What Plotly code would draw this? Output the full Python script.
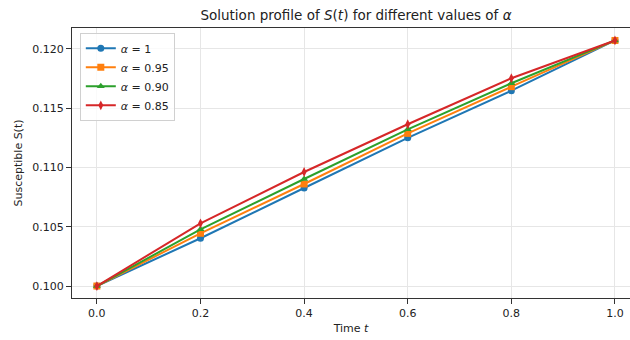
import plotly.graph_objects as go

t = [0.0, 0.2, 0.4, 0.6, 0.8, 1.0]
s_a100 = [0.1000, 0.10403, 0.10827, 0.11250, 0.11648, 0.12072]
s_a095 = [0.1000, 0.10445, 0.10861, 0.11288, 0.11682, 0.12072]
s_a090 = [0.1000, 0.10478, 0.10903, 0.11322, 0.11711, 0.12072]
s_a085 = [0.1000, 0.10529, 0.10962, 0.11365, 0.11753, 0.12072]
labels = ["<i>α</i> = 1", "<i>α</i> = 0.95", "<i>α</i> = 0.90", "<i>α</i> = 0.85"]
colors = ["#1f77b4", "#ff7f0e", "#2ca02c", "#d62728"]
symbols = ["circle", "square", "triangle-up", "diamond-tall"]
series = [s_a100, s_a095, s_a090, s_a085]

fig = go.Figure()
for ys, lab, c, sym in zip(series, labels, colors, symbols):
    fig.add_trace(go.Scatter(
        x=t, y=ys, mode="lines+markers", name=lab,
        line=dict(color=c, width=2),
        marker=dict(symbol=sym, size=7, color=c),
    ))

fig.update_layout(
    width=630, height=340,
    margin=dict(l=72, r=0, t=28, b=42),
    paper_bgcolor="white", plot_bgcolor="white",
    font=dict(family="DejaVu Sans", size=11, color="#222"),
    title=dict(text="Solution profile of <i>S</i>(<i>t</i>) for different values of <i>α</i>",
               x=0.509, xanchor="center", xref="paper", y=0.956, yanchor="middle",
               font=dict(size=13.5, color="#222")),
    legend=dict(x=0.014, y=0.982, xanchor="left", yanchor="top",
                bgcolor="rgba(255,255,255,0.8)", bordercolor="#d0d0d0", borderwidth=1,
                font=dict(size=11), tracegroupgap=0, itemwidth=30),
    showlegend=True,
)
fig.update_xaxes(
    range=[-0.048, 1.029], tickvals=[0.0, 0.2, 0.4, 0.6, 0.8, 1.0],
    ticktext=["0.0", "0.2", "0.4", "0.6", "0.8", "1.0"],
    showgrid=True, gridcolor="#e6e6e6", gridwidth=1, zeroline=False,
    showline=True, linecolor="#333", linewidth=1, mirror=True,
    ticks="outside", ticklen=5, tickcolor="#333",
    title=dict(text="Time <i>t</i>", standoff=5, font=dict(size=11)),
    tickfont=dict(size=11),
)
fig.update_yaxes(
    range=[0.09899, 0.12177], tickvals=[0.100, 0.105, 0.110, 0.115, 0.120],
    ticktext=["0.100", "0.105", "0.110", "0.115", "0.120"],
    showgrid=True, gridcolor="#e6e6e6", gridwidth=1, zeroline=False,
    showline=True, linecolor="#333", linewidth=1, mirror=True,
    ticks="outside", ticklen=5, tickcolor="#333",
    title=dict(text="Susceptible S(t)", standoff=7, font=dict(size=11)),
    tickfont=dict(size=11),
)
fig.write_html("out.html")
